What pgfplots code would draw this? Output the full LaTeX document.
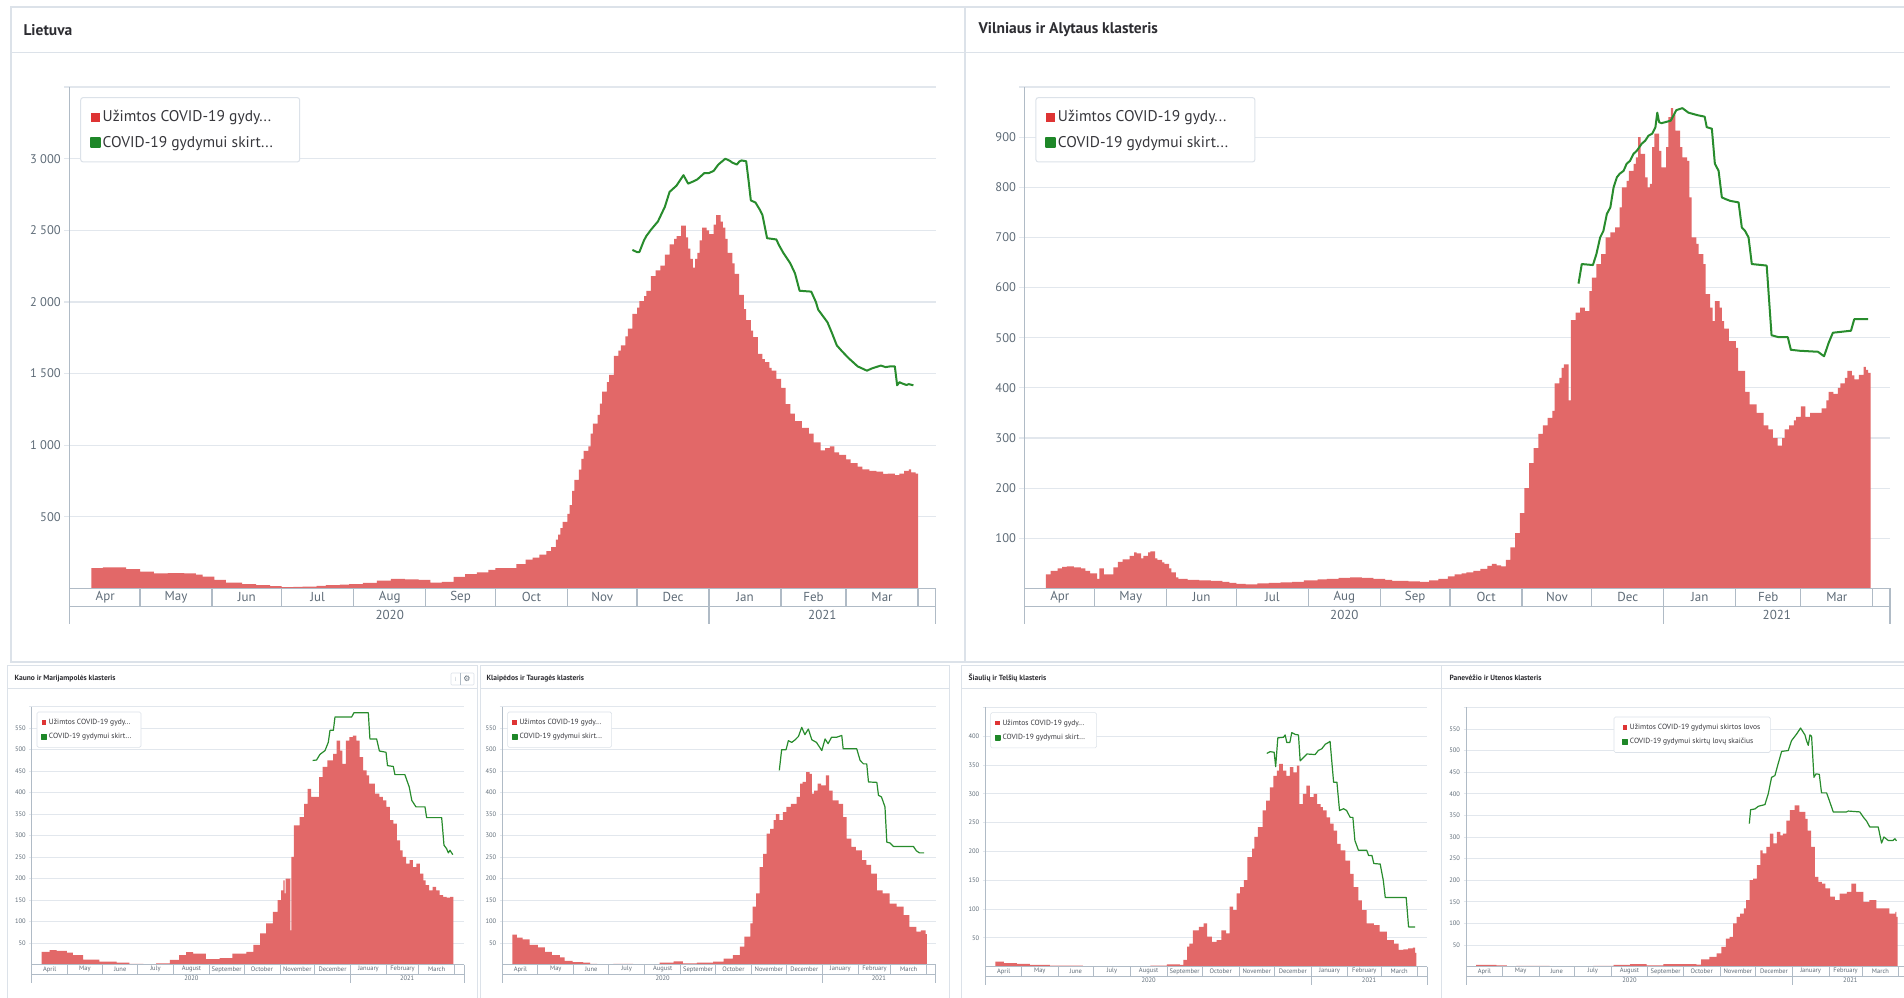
\documentclass[border=0pt]{standalone}
\usepackage{pgfplots}
\pgfplotsset{compat=1.18}
\usepackage{fontspec}
\setmainfont{PT Sans}
\newfontfamily\dejavu{DejaVu Sans}

\definecolor{barred}{RGB}{226,104,104}
\definecolor{legred}{RGB}{222,52,52}
\definecolor{leggreen}{RGB}{30,135,40}
\definecolor{linegreen}{RGB}{40,140,45}
\definecolor{gridc}{RGB}{226,231,237}
\definecolor{axc}{RGB}{176,187,198}
\definecolor{tickc}{RGB}{95,108,120}
\definecolor{framec}{RGB}{220,226,233}
\definecolor{titlec}{RGB}{45,45,50}
\definecolor{legtext}{RGB}{55,55,60}

\tikzset{
 mT/.style={font=\fontsize{13}{13}\selectfont, text=tickc, inner sep=0pt},
 mB/.style={font=\fontsize{6.5}{6.5}\selectfont, text=tickc, inner sep=0pt},
}

\newcommand\monthsS[2]{%
 \node[#1] at ([yshift=#2]axis cs:15,0) {Apr};
 \node[#1] at ([yshift=#2]axis cs:45.5,0) {May};
 \node[#1] at ([yshift=#2]axis cs:76,0) {Jun};
 \node[#1] at ([yshift=#2]axis cs:106.5,0) {Jul};
 \node[#1] at ([yshift=#2]axis cs:137.5,0) {Aug};
 \node[#1] at ([yshift=#2]axis cs:168,0) {Sep};
 \node[#1] at ([yshift=#2]axis cs:198.5,0) {Oct};
 \node[#1] at ([yshift=#2]axis cs:229,0) {Nov};
 \node[#1] at ([yshift=#2]axis cs:259.5,0) {Dec};
 \node[#1] at ([yshift=#2]axis cs:290.5,0) {Jan};
 \node[#1] at ([yshift=#2]axis cs:320,0) {Feb};
 \node[#1] at ([yshift=#2]axis cs:349.5,0) {Mar};
}
\newcommand\monthsL[2]{%
 \node[#1] at ([yshift=#2]axis cs:15,0) {April};
 \node[#1] at ([yshift=#2]axis cs:45.5,0) {May};
 \node[#1] at ([yshift=#2]axis cs:76,0) {June};
 \node[#1] at ([yshift=#2]axis cs:106.5,0) {July};
 \node[#1] at ([yshift=#2]axis cs:137.5,0) {August};
 \node[#1] at ([yshift=#2]axis cs:168,0) {September};
 \node[#1] at ([yshift=#2]axis cs:198.5,0) {October};
 \node[#1] at ([yshift=#2]axis cs:229,0) {November};
 \node[#1] at ([yshift=#2]axis cs:259.5,0) {December};
 \node[#1] at ([yshift=#2]axis cs:290.5,0) {January};
 \node[#1] at ([yshift=#2]axis cs:320,0) {February};
 \node[#1] at ([yshift=#2]axis cs:349.5,0) {March};
}
% #1 r1, #2 r2, #3 month style, #4 year style, #5 centre of 2021, #6 month macro, #7 line width, #8 tick length
\newcommand\xdeco[8]{%
 \draw[gridc, line width=#7] ([xshift=-#8]rel axis cs:0,1) -- (rel axis cs:1,1);
 \draw[axc, line width=#7] (rel axis cs:0,1) -- ([yshift=-#1-#2]rel axis cs:0,0);
 \draw[axc, line width=#7] (rel axis cs:0,0) -- (rel axis cs:1,0);
 \draw[axc, line width=#7] ([yshift=-#1]rel axis cs:0,0) -- ([yshift=-#1]rel axis cs:1,0);
 \draw[axc, line width=#7] (rel axis cs:1,0) -- ([yshift=-#1-#2]rel axis cs:1,0);
 \draw[axc, line width=#7] (axis cs:275,0) -- ([yshift=-#1-#2]axis cs:275,0);
 \pgfplotsinvokeforeach{30,61,91,122,153,183,214,244,306,334,365}{%
   \draw[axc, line width=#7] (axis cs:##1,0) -- ([yshift=-#1]axis cs:##1,0);}
 #6{#3}{-0.5*#1}
 \node[#4] at ([yshift=-#1-0.5*#2]axis cs:137.5,0) {2020};
 \node[#4] at ([yshift=-#1-0.5*#2]axis cs:#5,0) {2021};
}

\pgfplotsset{
 dashbase/.style={scale only axis, axis line style={draw=none}, xtick=\empty, ymin=0,
   ymajorgrids, ytick pos=left, tick align=outside, clip mode=individual,
   /pgf/number format/1000 sep={\ }, /pgf/number format/assume math mode=true},
 dashT/.style={dashbase, major tick length=5pt,
   ytick style={draw=gridc, line width=1.2pt},
   major grid style={draw=gridc, line width=1.2pt},
   yticklabel style={font=\fontsize{12.5}{13}\selectfont, text=tickc},
   legend style={at={(0,1)}, anchor=north west, xshift=11pt, yshift=-10pt, draw=framec,
     line width=1pt, rounded corners=2.5pt, fill=white, font=\fontsize{15.5}{15.5}\selectfont,
     text=legtext, inner xsep=9pt, inner ysep=11pt, row sep=9pt, cells={anchor=west}}},
 dashB/.style={dashbase, major tick length=2.5pt,
   ytick style={draw=gridc, line width=0.8pt},
   major grid style={draw=gridc, line width=0.8pt},
   yticklabel style={font=\fontsize{6.5}{6.5}\selectfont, text=tickc},
   legend style={at={(0,1)}, anchor=north west, xshift=5pt, yshift=-5pt, draw=framec,
     line width=0.6pt, rounded corners=1.5pt, fill=white, font=\fontsize{7.5}{7.5}\selectfont,
     text=legtext, inner xsep=4pt, inner ysep=5pt, row sep=3.5pt, cells={anchor=west}}},
 lgRT/.style={legend image code/.code={\fill[legred, sharp corners] (0pt,-4.5pt) rectangle (9pt,4.5pt);}},
 lgGT/.style={legend image code/.code={\fill[leggreen, sharp corners] (0pt,-4.5pt) rectangle (9pt,4.5pt);}},
 lgRB/.style={legend image code/.code={\fill[legred, sharp corners] (0pt,-2.4pt) rectangle (4.8pt,2.4pt);}},
 lgGB/.style={legend image code/.code={\fill[leggreen, sharp corners] (0pt,-2.4pt) rectangle (4.8pt,2.4pt);}},
 barsT/.style={ybar interval, fill=barred, draw=none, lgRT},
 lineT/.style={linegreen, line width=2pt, line join=round, lgGT},
 barsB/.style={ybar interval, fill=barred, draw=none, lgRB},
 lineB/.style={linegreen, line width=1.2pt, line join=round, lgGB},
}

\begin{document}
\begin{tikzpicture}[x=1pt,y=1pt]
\useasboundingbox (0,0) rectangle (1904,998);
\fill[white] (0,0) rectangle (1904,998);
% panel frames
\draw[framec, line width=1.2pt] (11,336) rectangle (965,991);
\draw[framec, line width=1.2pt] (965,336) rectangle (1912,991);
\draw[framec, line width=1.2pt] (11,945.5) -- (1912,945.5);
\draw[framec, line width=1pt] (7,-5) rectangle (477,332);
\draw[framec, line width=1pt] (480,-5) rectangle (949,332);
\draw[framec, line width=1pt] (961,-5) rectangle (1441,332);
\draw[framec, line width=1pt] (1441,-5) rectangle (1912,332);
\draw[framec, line width=1pt] (7,309) -- (477,309);
\draw[framec, line width=1pt] (480,309) -- (949,309);
\draw[framec, line width=1pt] (961,309) -- (1912,309);
% titles
\node[anchor=west, font=\bfseries\fontsize{15.5}{16}\selectfont, text=titlec] at (20,968) {Lietuva};
\node[anchor=west, font=\bfseries\fontsize{15.5}{16}\selectfont, text=titlec] at (975,968) {Vilniaus ir Alytaus klasteris};
\node[anchor=west, font=\bfseries\fontsize{7.5}{8}\selectfont, text=titlec] at (11,319.7) {Kauno ir Marijampolės klasteris};
\node[anchor=west, font=\bfseries\fontsize{7.5}{8}\selectfont, text=titlec] at (483,319.7) {Klaipėdos ir Tauragės klasteris};
\node[anchor=west, font=\bfseries\fontsize{7.5}{8}\selectfont, text=titlec] at (965,319.7) {Šiaulių ir Telšių klasteris};
\node[anchor=west, font=\bfseries\fontsize{7.5}{8}\selectfont, text=titlec] at (1446,319.7) {Panevėžio ir Utenos klasteris};
% small toolbar icons
\draw[framec, line width=0.6pt, rounded corners=1pt] (451,313) rectangle (474,325);
\draw[axc, line width=0.6pt] (460,313) -- (460,325);
\node[font=\dejavu\fontsize{8}{8}\selectfont, text=tickc] at (467,319) {⚙};
\node[font=\dejavu\fontsize{6}{6}\selectfont, text=axc] at (455.5,319) {⁞};

% ---------------- Lietuva ----------------
\begin{axis}[dashT, at={(69.2pt,409.6pt)}, anchor=south west, width=866.5pt, height=501.3pt,
  xmin=-0.5, xmax=372.6, ymax=3500, ytick={500,1000,...,3000}]
\addplot[barsT] coordinates {(9,141) (14,146) (18,147) (24,135) (30,117) (36,104) (42,106) (49,105) (54,96) (57,82) (62,60) (67,40) (74,30) (80,23) (86,15) (91,9) (96,10) (100,12) (106,18) (110,23) (116,26) (120,29) (126,38) (132,55) (138,67) (144,63) (150,59) (155,40) (160,45) (165,80) (170,100) (175,111) (180,130) (183,141) (188,141) (192,170) (196,200) (199,215) (202,235) (205,260) (207,288) (209,340) (210,376) (211,420) (212,464) (214,520) (215,581) (216,680) (217,757) (219,830) (220,904) (221,960) (223,992) (224,1080) (225,1150) (227,1212) (228,1290) (229,1374) (231,1440) (232,1491) (234,1623) (236,1660) (237,1697) (239,1760) (240,1814) (242,1917) (244,1960) (245,2005) (247,2040) (248,2078) (250,2181) (252,2220) (254,2254) (256,2330) (258,2401) (260,2440) (261,2460) (263,2533) (264,2533) (265,2450) (266,2372) (267,2300) (268,2240) (269,2300) (270,2342) (271,2430) (272,2519) (274,2500) (275,2474) (277,2540) (278,2606) (280,2560) (281,2519) (282,2440) (283,2342) (285,2270) (286,2196) (288,2049) (290,1950) (291,1873) (293,1800) (294,1755) (296,1638) (298,1600) (299,1579) (301,1540) (302,1520) (304,1462) (306,1400) (308,1286) (310,1220) (312,1168) (315,1120) (318,1080) (320,1020) (323,963) (325,980) (327,992) (329,950) (331,933) (334,900) (336,875) (339,850) (341,831) (344,820) (347,816) (350,800) (352,801) (355,790) (357,801) (359,820) (361,831) (362,810) (364,801) (365,0)};
\addlegendentry{\makebox[186pt][l]{Užimtos COVID-19 gydy...}}
\addplot[lineT] coordinates {(242,2363) (244,2348) (245,2348) (247,2430) (248,2460) (250,2504) (253,2562) (256,2665) (258,2768) (261,2812) (264,2885) (266,2826) (268,2840) (270,2856) (273,2900) (275,2900) (277,2915) (279,2959) (282,3000) (284,2985) (285,2973) (287,2959) (288,2980) (289,2988) (291,2982) (292,2850) (293,2709) (295,2694) (297,2640) (298,2606) (300,2445) (304,2436) (305,2400) (307,2342) (310,2269) (312,2200) (314,2078) (319,2072) (321,2000) (322,1946) (326,1858) (328,1780) (330,1697) (332,1660) (335,1609) (339,1550) (341,1535) (343,1520) (345,1535) (349,1556) (351,1545) (353,1550) (355,1550) (356,1418) (357,1440) (358,1432) (360,1420) (361,1426) (363,1418)};
\addlegendentry{\makebox[186pt][l]{COVID-19 gydymui skirt...}}
\xdeco{18.1pt}{17.5pt}{mT}{mT}{323.8}{\monthsS}{1.3pt}{5pt}
\end{axis}

% ---------------- Vilnius ----------------
\begin{axis}[dashT, at={(1024.4pt,409.6pt)}, anchor=south west, width=865.6pt, height=501.3pt,
  xmin=-0.26, xmax=372.4, ymax=1000, ytick={100,200,...,900}]
\addplot[barsT] coordinates {(9,28) (11,35) (14,40) (16,43) (18,44) (21,42) (24,40) (26,35) (28,30) (31,19) (32,40) (34,28) (36,28) (38,42) (40,53) (42,58) (45,65) (47,72) (48,70) (50,60) (51,65) (53,72) (54,74) (56,60) (57,57) (59,52) (60,49) (62,40) (63,32) (65,22) (66,19) (70,17) (75,16) (80,15) (85,13) (88,11) (91,9) (95,8) (100,10) (105,11) (110,12) (115,13) (120,16) (126,18) (130,19) (135,21) (140,22) (145,21) (150,19) (155,17) (158,15) (165,14) (170,13) (174,16) (178,19) (182,24) (185,28) (188,30) (190,32) (193,35) (196,39) (199,45) (201,49) (203,46) (205,44) (207,57) (209,82) (211,110) (213,150) (215,200) (217,250) (219,280) (221,308) (223,325) (225,340) (227,354) (228,409) (230,420) (231,440) (232,447) (234,375) (235,535) (237,550) (239,560) (241,553) (243,593) (244,620) (246,647) (248,667) (250,700) (252,710) (254,720) (256,760) (257,800) (259,813) (260,833) (262,847) (263,860) (264,900) (265,867) (267,820) (268,800) (269,807) (270,880) (271,907) (273,873) (274,840) (276,880) (277,940) (278,958) (279,945) (280,913) (282,880) (283,860) (285,853) (286,780) (287,700) (289,687) (290,667) (292,647) (293,587) (295,560) (296,533) (297,573) (299,560) (300,533) (301,518) (303,493) (306,480) (307,434) (310,392) (312,367) (315,350) (318,325) (320,317) (322,300) (324,285) (326,300) (327,317) (329,325) (331,335) (332,342) (334,363) (336,342) (338,350) (341,350) (343,359) (345,375) (346,392) (348,388) (350,400) (351,409) (353,420) (354,434) (356,425) (357,417) (359,426) (361,442) (362,436) (363,430) (364,0)};
\addlegendentry{\makebox[186pt][l]{Užimtos COVID-19 gydy...}}
\addplot[lineT] coordinates {(238.3,608) (239.7,647) (244.5,645) (246,667) (247.6,700) (249,713) (250.5,747) (252,760) (253.4,800) (254.8,820) (256,827) (257.7,833) (259,847) (260.5,853) (262,867) (263.4,873) (265.5,887) (267,893) (268.4,903) (270,907) (271.4,920) (272.2,949) (273,930) (274,928) (278,933) (280.4,954) (283,958) (285.6,949) (289.5,944) (292.6,941) (293.5,920) (295.7,917) (297,847) (298.6,833) (300,780) (301.4,777) (303.6,773) (307.2,770) (308.6,720) (310,713) (311.5,700) (312.9,647) (319.3,644) (321.4,505) (324.5,501) (328.4,501) (329.7,476) (333.6,474) (341.4,472) (344,463) (346,490) (347.8,510) (355.6,514) (357,537) (363,537)};
\addlegendentry{\makebox[186pt][l]{COVID-19 gydymui skirt...}}
\xdeco{18.1pt}{17.5pt}{mT}{mT}{323.7}{\monthsS}{1.3pt}{5pt}
\end{axis}

% ---------------- Kaunas ----------------
\begin{axis}[dashB, at={(31.7pt,33.3pt)}, anchor=south west, width=432.3pt, height=258pt,
  xmin=-0.5, xmax=373.1, ymax=600, ytick={50,100,...,550}]
\addplot[barsB] coordinates {(8,30) (15,34) (21,32) (30,28) (35,22) (44,12) (58,7) (73,5) (84,2) (96,1) (107,3) (119,11) (127,22) (133,29) (139,26) (150,13) (162,15) (173,26) (185,30) (191,46) (197,73) (202,96) (208,123) (212,150) (215,173) (217,196) (218,166) (219,200) (223,80) (224,251) (226,324) (231,343) (235,374) (238,409) (241,390) (244,390) (248,436) (251,460) (255,475) (260,490) (263,521) (266,498) (268,467) (271,521) (274,529) (277,533) (280,521) (283,483) (286,452) (289,440) (291,421) (296,398) (300,390) (303,382) (306,367) (309,336) (312,328) (315,289) (318,266) (320,251) (323,235) (326,243) (329,227) (332,235) (335,212) (338,196) (340,185) (343,173) (346,181) (349,173) (352,162) (355,158) (358,156) (361,158) (364,0)};
\addlegendentry{\makebox[86pt][l]{Užimtos COVID-19 gydy...}}
\addplot[lineB] coordinates {(242.3,475) (245.7,476) (248.6,489) (253,498) (255.8,517) (257.3,545) (260.2,545) (261.6,576) (276,576) (278,586) (290.4,586) (291.8,525) (297.6,525) (300,497) (305.7,494) (307,463) (312,461) (313.4,442) (322,442) (325.8,413) (328,382) (331.6,367) (339.4,367) (340.8,342) (353.8,342) (355.8,278) (358,270) (359.6,260) (361,266) (363.4,256)};
\addlegendentry{\makebox[86pt][l]{COVID-19 gydymui skirt...}}
\xdeco{9.3pt}{9pt}{mB}{mB}{324}{\monthsL}{0.8pt}{2.5pt}
\end{axis}

% ---------------- Klaipeda ----------------
\begin{axis}[dashB, at={(502.3pt,33.3pt)}, anchor=south west, width=433.4pt, height=258pt,
  xmin=-0.6, xmax=372.7, ymax=600, ytick={50,100,...,550}]
\addplot[barsB] coordinates {(8,70) (12,63) (17,59) (23,46) (30,40) (36,30) (42,22) (49,17) (53,9) (60,6) (69,5) (75,2) (81,1) (86,0) (95,2) (104,2) (112,0) (127,1) (135,5) (147,8) (155,3) (167,5) (181,7) (190,14) (198,22) (204,42) (208,65) (213,96) (215,135) (218,166) (221,227) (224,258) (227,305) (230,316) (233,336) (235,350) (238,336) (241,355) (244,367) (248,374) (253,390) (256,421) (258,425) (261,448) (264,444) (266,398) (268,405) (271,421) (274,417) (278,440) (281,405) (284,382) (289,374) (293,343) (296,293) (300,274) (304,266) (309,243) (313,232) (317,212) (322,173) (327,166) (333,142) (339,135) (345,115) (350,88) (356,77) (360,80) (364,71) (365,0)};
\addlegendentry{\makebox[86pt][l]{Užimtos COVID-19 gydy...}}
\addplot[lineB] coordinates {(238,452) (240,500) (243.8,500) (245.8,521) (248.7,517) (251.6,523) (254.5,531) (257.3,552) (260,535) (263,548) (266,523) (270,517) (274.6,498) (277.4,525) (280,514) (283,529) (287.4,529) (291.8,533) (293,502) (304.7,502) (307.6,475) (310.5,467) (313.3,467) (314.8,425) (322,424) (323.4,394) (326,390) (329,367) (330.6,285) (333.4,283) (336.3,275) (353.5,275) (356,265) (358.7,260) (362.7,260)};
\addlegendentry{\makebox[86pt][l]{COVID-19 gydymui skirt...}}
\xdeco{9.3pt}{9pt}{mB}{mB}{323.8}{\monthsL}{0.8pt}{2.5pt}
\end{axis}

% ---------------- Siauliai ----------------
\begin{axis}[dashB, at={(985.3pt,31.3pt)}, anchor=south west, width=441.7pt, height=259.4pt,
  xmin=-0.6, xmax=373, ymax=450, ytick={50,100,...,400}]
\addplot[barsB] coordinates {(8,9) (15,6) (26,5) (37,3) (54,2) (77,2) (82,0) (125,1) (139,2) (153,4) (164,3) (167,12) (170,35) (172,40) (175,63) (180,69) (184,75) (187,52) (191,43) (195,46) (199,63) (203,58) (206,104) (209,98) (212,127) (215,138) (218,150) (221,190) (225,205) (227,225) (230,242) (234,271) (237,288) (240,311) (243,331) (246,340) (248,352) (251,340) (254,331) (257,346) (260,337) (263,349) (265,282) (268,300) (271,314) (274,294) (277,300) (280,282) (283,277) (285,271) (288,259) (291,248) (294,236) (297,213) (300,202) (304,184) (308,161) (311,138) (315,115) (318,98) (322,75) (328,72) (333,61) (339,46) (345,40) (349,29) (353,30) (357,32) (361,33) (363,24) (364,0)};
\addlegendentry{\makebox[88pt][l]{Užimtos COVID-19 gydy...}}
\addplot[lineB] coordinates {(237.5,370) (240.3,373) (243.7,372) (245,347) (246.8,397) (251.6,398) (253,402) (254.4,389) (257,389) (258.6,406) (261.5,403) (264.3,402) (265.7,357) (268.6,363) (271.4,369) (278.4,368) (281,375) (284,378) (287,386) (289.7,389) (291,391) (294,320) (296.8,320) (299,271) (302.4,274) (305,271) (308,259) (310.3,259) (312,219) (315,202) (322,202) (323.6,193) (326.4,193) (328,179) (333.4,178) (336,150) (337.7,120) (355.4,120) (357.4,69) (363,69)};
\addlegendentry{\makebox[88pt][l]{COVID-19 gydymui skirt...}}
\xdeco{9.3pt}{9pt}{mB}{mB}{324}{\monthsL}{0.8pt}{2.5pt}
\end{axis}

% ---------------- Panevezys ----------------
\begin{axis}[dashB, at={(1466pt,31.3pt)}, anchor=south west, width=442.3pt, height=259.4pt,
  xmin=-0.6, xmax=373, ymax=600, ytick={50,100,...,550},
  legend style={at={(0.5,1)}, anchor=north, xshift=0pt, yshift=-4.4pt, inner xsep=8pt}]
\addplot[barsB] coordinates {(8,4) (25,3) (34,0) (42,2) (51,2) (62,2) (70,0) (82,0) (107,2) (124,4) (138,6) (152,3) (166,6) (180,6) (194,5) (198,17) (205,23) (211,31) (215,46) (219,65) (222,69) (225,100) (228,115) (231,123) (234,135) (236,154) (239,200) (242,204) (245,235) (248,269) (250,262) (253,277) (256,308) (259,285) (262,312) (265,304) (267,308) (270,338) (273,362) (277,373) (281,358) (286,342) (288,315) (291,277) (294,208) (297,196) (300,192) (303,181) (307,162) (311,154) (315,169) (321,173) (325,192) (329,173) (335,150) (340,154) (346,135) (352,135) (357,123) (362,127) (363,115) (364,0)};
\addlegendentry{Užimtos COVID-19 gydymui skirtos lovos}
\addplot[lineB] coordinates {(238.7,331) (239.8,363) (243.5,365) (246.3,371) (251.9,375) (254.7,400) (257.5,438) (260.3,442) (263,469) (266,498) (271.6,500) (274.4,523) (278.6,538) (282,552) (285.7,536) (287,523) (288.5,512) (289.9,536) (291.3,533) (293.3,438) (295,446) (297.8,445) (299.7,402) (304,402) (306.2,385) (309.6,358) (320.8,358) (322.3,360) (332,358) (335,346) (337.7,337) (340.5,323) (347.6,323) (350.4,286) (352.4,300) (356,292) (360,292) (361.7,296) (363,291)};
\addlegendentry{COVID-19 gydymui skirtų lovų skaičius}
\xdeco{9.3pt}{9pt}{mB}{mB}{324}{\monthsL}{0.8pt}{2.5pt}
\end{axis}
\end{tikzpicture}
\end{document}
